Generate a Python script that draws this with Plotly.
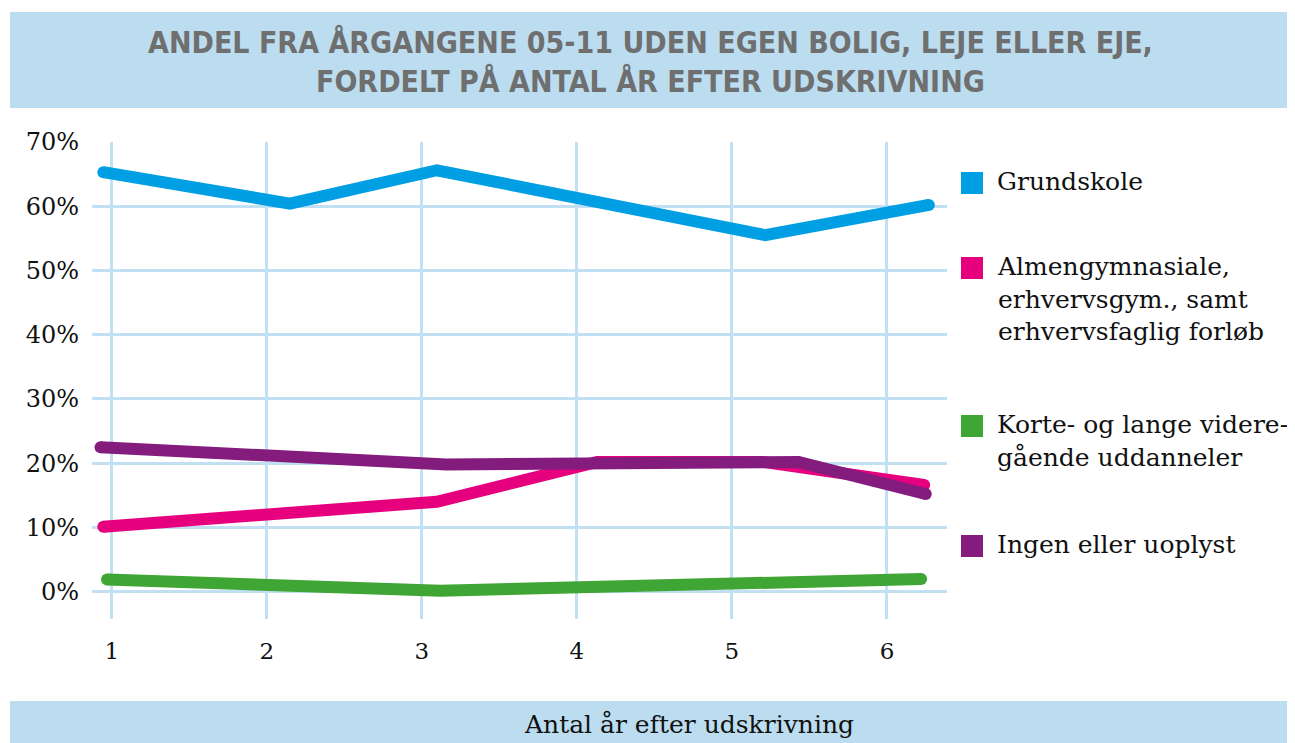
import plotly.graph_objects as go

# ---------------- data ----------------
series_names = ["Grundskole",
                "Almengymnasiale,<br>erhvervsgym., samt<br>erhvervsfaglig forløb",
                "Korte- og lange videre-<br>gående uddanneler",
                "Ingen eller uoplyst"]
series_colors = ["#009fe3", "#e6007e", "#3fa535", "#841c7e"]

grund_x = [0.946, 2.15, 3.097, 5.215, 6.27]
grund_y = [65.3, 60.4, 65.6, 55.5, 60.2]

almen_x = [0.946, 3.097, 4.13, 5.2, 6.24]
almen_y = [10.1, 14.0, 20.2, 20.2, 16.6]

korte_x = [0.97, 3.12, 6.22]
korte_y = [1.9, 0.15, 1.97]

ingen_x = [0.928, 3.16, 5.43, 6.25]
ingen_y = [22.5, 19.8, 20.2, 15.2]

x_ticks = [1, 2, 3, 4, 5, 6]
y_ticks = [0, 10, 20, 30, 40, 50, 60, 70]
y_tick_labels = [f"{v}%" for v in y_ticks]

title_lines = ["ANDEL FRA ÅRGANGENE 05-11 UDEN EGEN BOLIG, LEJE ELLER EJE,",
               "FORDELT PÅ ANTAL ÅR EFTER UDSKRIVNING"]
x_title = "Antal år efter udskrivning"

# ---------------- layout geometry ----------------
OFF = 8  # page body margin
WIDTH, HEIGHT = 1295 - OFF, 743 - OFF
L, T, W, H = 92 - OFF, 142 - OFF, 855, 477
R = WIDTH - L - W
B = HEIGHT - T - H


def px(x):
    return (x - OFF - L) / W


def py(y):
    return (T + H - (y - OFF)) / H


SERIF = "DejaVu Serif, Liberation Serif, serif"
GRID = "#c2e0f3"
BAND = "#bcddf0"
LW = 12

fig = go.Figure()
all_x = [grund_x, almen_x, korte_x, ingen_x]
all_y = [grund_y, almen_y, korte_y, ingen_y]
for name, col, xs, ys in zip(series_names, series_colors, all_x, all_y):
    caps = [LW] + [0] * (len(xs) - 2) + [LW]  # round end caps
    fig.add_trace(go.Scatter(x=xs, y=ys, mode="lines+markers", name=name.replace("<br>", " "),
                             line=dict(color=col, width=LW),
                             marker=dict(size=caps, color=col, opacity=1,
                                         line=dict(width=0, color=col)),
                             showlegend=False))

shapes = []
annotations = []
# title band
shapes.append(dict(type="rect", xref="paper", yref="paper", x0=px(10), x1=px(1300),
                   y0=py(108), y1=py(12), fillcolor=BAND, line=dict(width=0), layer="below"))
# bottom band
shapes.append(dict(type="rect", xref="paper", yref="paper", x0=px(10), x1=px(1300),
                   y0=py(750), y1=py(701), fillcolor=BAND, line=dict(width=0), layer="below"))

annotations.append(dict(xref="paper", yref="paper", x=px(650), y=py(61), xanchor="center",
                        yanchor="middle", showarrow=False,
                        text="<b>" + "<br>".join(title_lines) + "</b>",
                        font=dict(family="DejaVu Sans Condensed, Liberation Sans Narrow, sans-serif",
                                  size=30, color="#6f6f6f")))
annotations.append(dict(xref="paper", yref="paper", x=px(689), y=py(724), xanchor="center",
                        yanchor="middle", showarrow=False, text=x_title,
                        font=dict(family=SERIF, size=25, color="#111111")))

# legend (markers + text)
legend_y = [183, 268, 426, 546]
for name, col, ly in zip(series_names, series_colors, legend_y):
    x0, x1, y0, y1 = px(962), px(982), py(ly + 10), py(ly - 10)
    shapes.append(dict(type="rect", xref="paper", yref="paper", x0=x0, x1=x1, y0=y0, y1=y1,
                       fillcolor=col, line=dict(color=col, width=2)))
    annotations.append(dict(xref="paper", yref="paper", x=px(995), y=py(ly - 18),
                            xanchor="left", yanchor="top", align="left", showarrow=False,
                            text=name, font=dict(family=SERIF, size=25, color="#111111")))

fig.update_layout(
    width=WIDTH, height=HEIGHT,
    margin=dict(l=L, r=R, t=T, b=B, pad=0),
    paper_bgcolor="white", plot_bgcolor="white",
    shapes=shapes, annotations=annotations,
    xaxis=dict(range=[0.873, 6.387], tickvals=x_ticks, ticktext=[str(v) for v in x_ticks],
               showgrid=True, gridcolor=GRID, gridwidth=3, zeroline=False, showline=False,
               ticks="", ticklabelstandoff=16,
               tickfont=dict(family=SERIF, size=23, color="#111111"), fixedrange=True),
    yaxis=dict(range=[-4.25, 70], tickvals=y_ticks, ticktext=y_tick_labels,
               showgrid=True, gridcolor=GRID, gridwidth=3, zeroline=False, showline=False,
               ticks="", ticklabelstandoff=12,
               tickfont=dict(family=SERIF, size=24, color="#111111"), fixedrange=True),
)

fig.write_html("out.html")
